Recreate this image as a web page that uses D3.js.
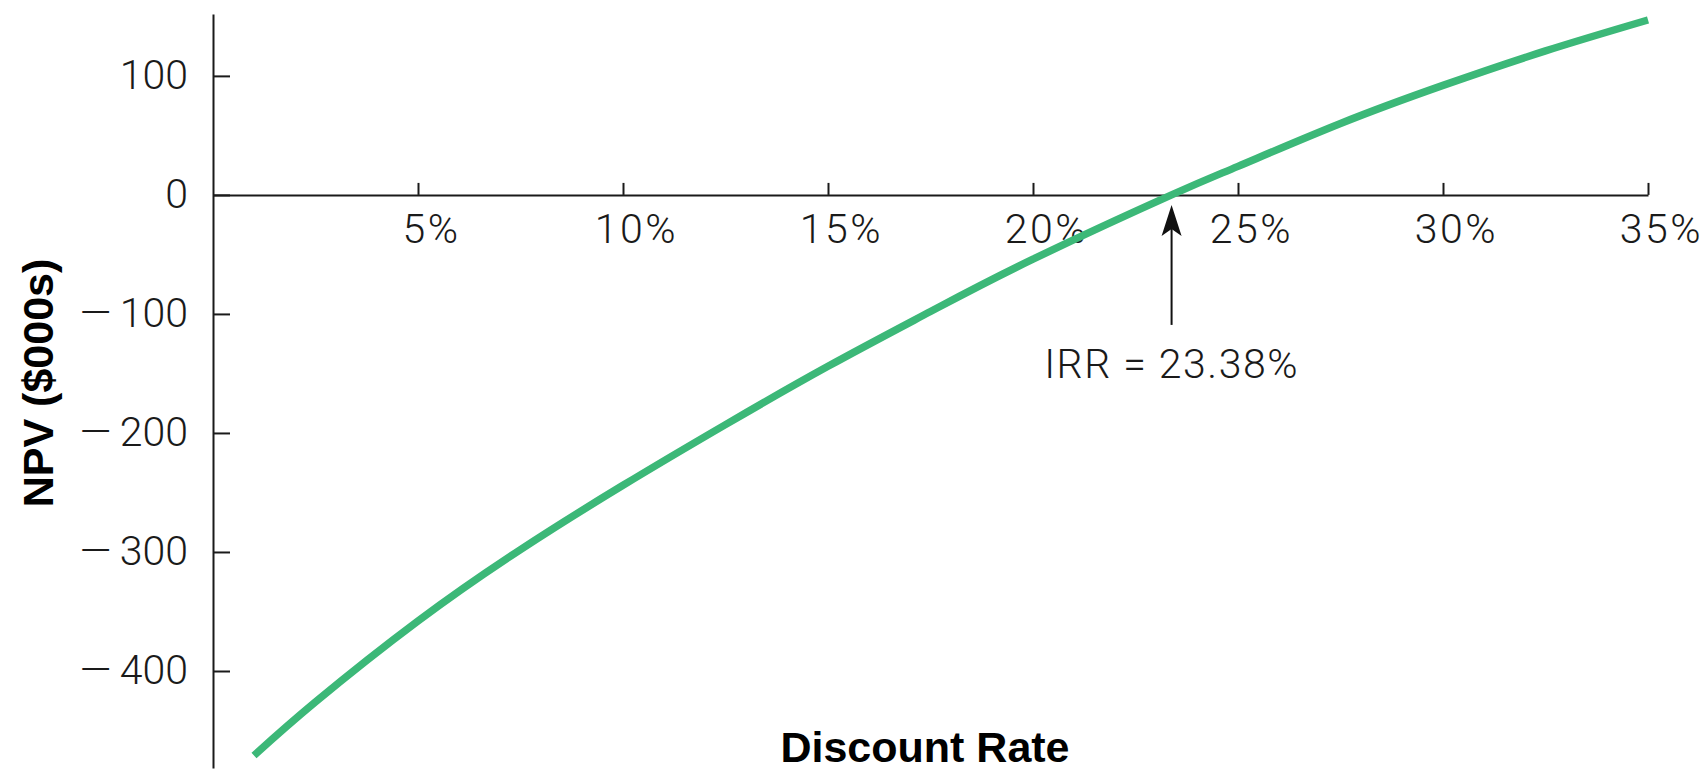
<!DOCTYPE html>
<html>
<head>
<meta charset="utf-8">
<script src="https://cdn.jsdelivr.net/npm/d3@7"></script>
<style>
  body { margin: 0; background: #fff; }
  .axis path, .axis line { stroke: #1a1a1a; stroke-width: 2; }
  .axis text { font-family: Roboto, "Liberation Sans", sans-serif; font-weight: 300; font-size: 41px; fill: #1a1a1a; }
  .title { font-family: "Liberation Sans", Arial, sans-serif; font-weight: bold; font-size: 43px; fill: #000; }
</style>
</head>
<body>
<div class="npv"></div>
<script>
// discount rates (%) and NPV ($000s)
const rates = [1, 2.5, 5, 7.5, 10, 12.5, 15, 17.5, 20, 23.38, 25, 27.5, 30, 32.5, 35];
const npv = [-471, -426, -358, -298, -244, -193, -144, -98, -54, 0, 24, 60, 92, 121, 147];

const xTicks = [5, 10, 15, 20, 25, 30, 35];
const yTicks = [100, 0, -100, -200, -300, -400];
const irr = 23.38;

const W = 1707, H = 778;

const x = d3.scaleLinear()
  .domain([0, 35])
  .range([213, 1648]);

const y = d3.scaleLinear()
  .domain([-481.5, 152])
  .range([768, 14]);

const svg = d3.select('.npv')
  .append('svg')
  .attr('width', W)
  .attr('height', H);

// y axis, ticks pointing into the plot
const yAxis = d3.axisLeft(y)
  .tickValues(yTicks)
  .tickSizeInner(-17)
  .tickSizeOuter(0)
  .tickPadding(25)
  .tickFormat(d => d < 0 ? '\u2014\u2009' + Math.abs(d) : d);

svg.append('g')
  .attr('class', 'axis')
  .attr('transform', `translate(${x(0)},0)`)
  .call(yAxis)
  .selectAll('text')
  .attr('dy', '0.3em');

// x axis sits on NPV = 0, ticks pointing up
const xAxis = d3.axisBottom(x)
  .tickValues(xTicks)
  .tickSizeInner(-12)
  .tickSizeOuter(0)
  .tickPadding(19)
  .tickFormat(d => d + '%');

svg.append('g')
  .attr('class', 'axis')
  .attr('transform', `translate(0,${y(0)})`)
  .call(xAxis)
  .selectAll('text')
  .attr('dx', 13)
  .attr('letter-spacing', 2.5);

// NPV profile
const line = d3.line()
  .x((d, i) => x(rates[i]))
  .y(d => y(d))
  .curve(d3.curveNatural);

svg.append('path')
  .datum(npv)
  .attr('d', line)
  .attr('fill', 'none')
  .attr('stroke', '#3cb878')
  .attr('stroke-width', 7.5)
  .attr('stroke-linecap', 'butt');

// IRR arrow
const ax = x(irr), tip = y(0) + 10;
svg.append('line')
  .attr('x1', ax).attr('x2', ax)
  .attr('y1', tip + 20).attr('y2', tip + 120)
  .attr('stroke', '#111')
  .attr('stroke-width', 2);

svg.append('path')
  .attr('d', `M${ax},${tip} L${ax + 10},${tip + 31} L${ax},${tip + 24} L${ax - 10},${tip + 31} Z`)
  .attr('fill', '#111');

svg.append('text')
  .attr('x', ax)
  .attr('y', tip + 173)
  .attr('text-anchor', 'middle')
  .style('font-family', 'Roboto, "Liberation Sans", sans-serif')
  .style('font-weight', 300)
  .style('font-size', '41px')
  .attr('letter-spacing', 1.5)
  .attr('fill', '#1a1a1a')
  .text('IRR = 23.38%');

// axis titles
svg.append('text')
  .attr('class', 'title')
  .attr('x', 925)
  .attr('y', 762)
  .attr('text-anchor', 'middle')
  .text('Discount Rate');

svg.append('text')
  .attr('class', 'title')
  .attr('transform', 'translate(53,383) rotate(-90)')
  .attr('text-anchor', 'middle')
  .text('NPV ($000s)');
</script>
</body>
</html>
